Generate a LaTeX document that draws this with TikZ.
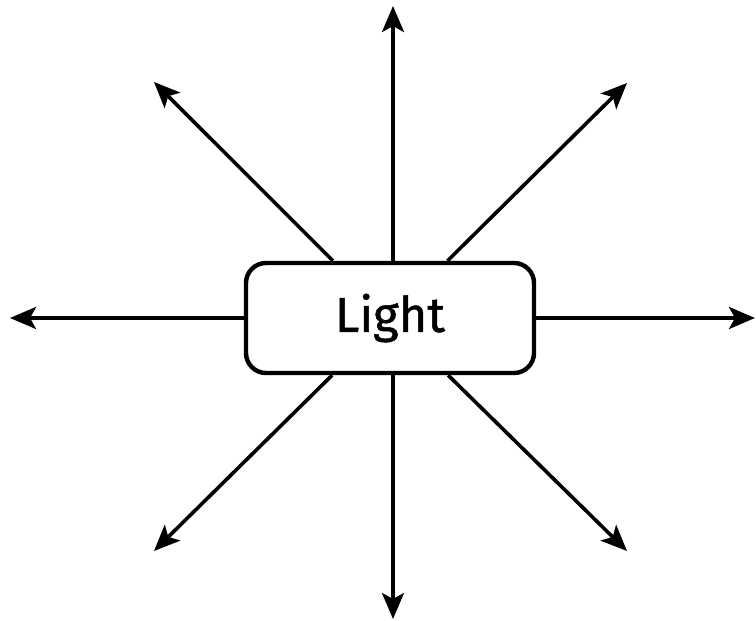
\documentclass[tikz,border=0pt]{standalone}
\usepackage{fontspec}
\setmainfont{Fira Sans}[FakeBold=1]
\usetikzlibrary{arrows.meta}
\begin{document}
\begin{tikzpicture}[x=1pt,y=-1pt,
  ray/.style={line width=3.6pt,-{Stealth[length=26pt,width=22pt,inset=6pt]}},
  box/.style={draw,line width=4.4pt,rounded corners=20pt,minimum width=288pt,minimum height=110pt,inner sep=0pt,fill=white,font=\fontsize{49}{58}\selectfont}]
\useasboundingbox (0,0) rectangle (756,621);
\node[box] (L) at (390,318) {Light};
\coordinate (tU) at (393,6);
\coordinate (tD) at (393,619);
\coordinate (tL) at (10,318);
\coordinate (tR) at (755,318);
\coordinate (tUL) at (154,82);
\coordinate (tUR) at (627,83);
\coordinate (tDL) at (154,551);
\coordinate (tDR) at (627,551);
\draw[ray] (L.north -| tU) -- (tU);
\draw[ray] (L.south -| tD) -- (tD);
\draw[ray] (L.west) -- (tL);
\draw[ray] (L.east) -- (tR);
\draw[ray] (L) -- (tUL);
\draw[ray] (L) -- (tUR);
\draw[ray] (L) -- (tDL);
\draw[ray] (L) -- (tDR);
\end{tikzpicture}
\end{document}
